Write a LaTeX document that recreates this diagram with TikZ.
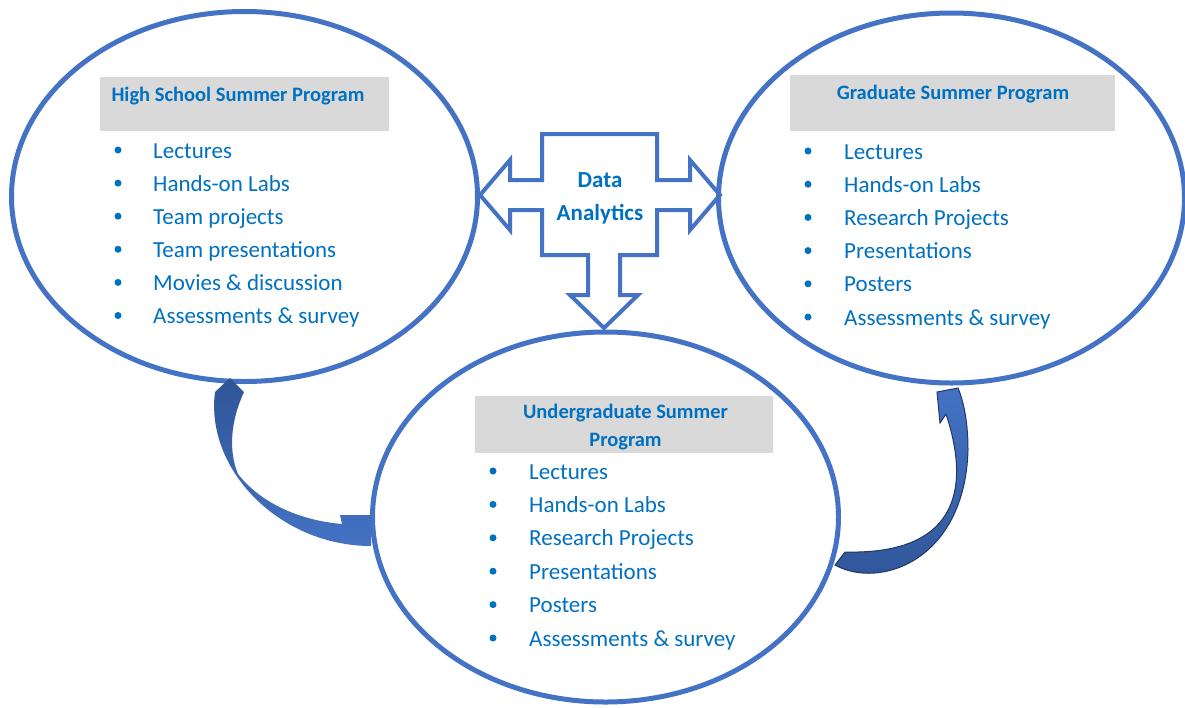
\documentclass[tikz,border=0pt]{standalone}
\usepackage{fontspec}
\setmainfont{Carlito}
\usetikzlibrary{shapes.geometric}
\definecolor{ringblue}{RGB}{68,114,196}
\definecolor{txtblue}{RGB}{0,112,192}
\definecolor{hdrgray}{RGB}{217,217,217}
\definecolor{darkblue}{RGB}{47,85,151}
\definecolor{navy}{RGB}{31,56,100}

\begin{document}
\begin{tikzpicture}[x=1pt,y=1pt,yscale=-1,
	ring/.style={ellipse,draw=ringblue,line width=5pt,inner sep=0pt,minimum width=466pt,minimum height=370pt},
	hdr/.style={fill=hdrgray,inner sep=0pt},
	title/.style={anchor=base,inner sep=0pt,text=txtblue,font=\fontsize{20.5}{24}\selectfont\bfseries},
	hubtext/.style={anchor=base,inner sep=0pt,text=txtblue,font=\fontsize{23}{27}\selectfont\bfseries},
	item/.style={anchor=base west,inner sep=0pt,text=txtblue,font=\fontsize{23}{27}\selectfont},
	dot/.style={circle,fill=txtblue,inner sep=0pt,minimum size=7pt}]
	\useasboundingbox (0,0) rectangle (1185,707);

	% the three programs
	\node[ring] (hs) at (244.5,196.5) {};
	\node[ring] (grad) at (951.5,198) {};
	\node[ring] (ug) at (605.5,517) {};

	% grey title bars
	\node[hdr,minimum width=289pt,minimum height=54pt] (hsbox) at (244.5,104) {};
	\node[hdr,minimum width=325pt,minimum height=56pt] (gradbox) at (952.5,103) {};
	\node[hdr,minimum width=298pt,minimum height=57pt] (ugbox) at (624,424.5) {};
	\node[title] (hstitle) at (238,101) {High School Summer Program};
	\node[title] (gradtitle) at (953,99) {Graduate Summer Program};
	\node[title] (ugtitle1) at (625.5,418) {Undergraduate Summer};
	\node[title] (ugtitle2) at (625.5,446) {Program};

	% bullet lists
	\foreach \t [count=\i from 0] in {Lectures,Hands-on Labs,Team projects,Team presentations,Movies \& discussion,Assessments \& survey} {
		\node[dot] (hsdot\i) at (118,150+33.1*\i) {};
		\node[item] (hs\i) at (153,158+33.1*\i) {\t};
	}
	\foreach \t [count=\i from 0] in {Lectures,Hands-on Labs,Research Projects,Presentations,Posters,Assessments \& survey} {
		\node[dot] (graddot\i) at (808,151+33.2*\i) {};
		\node[item] (grad\i) at (844,159+33.2*\i) {\t};
		\node[dot] (ugdot\i) at (493,471+33.4*\i) {};
		\node[item] (ug\i) at (529,479+33.4*\i) {\t};
	}

	% data analytics hub with its three arrows
	\draw[ringblue,line width=4pt,miter limit=20] (542,134) -- (657,134) -- (657,180) -- (690,180) -- (690,160) -- (720,195)
		-- (690,230) -- (690,210) -- (657,210) -- (657,255) -- (620,255) -- (620,295) -- (638,295) -- (604,328)
		-- (570,295) -- (588,295) -- (588,255) -- (542,255) -- (542,210) -- (510,210) -- (510,230) -- (480,195)
		-- (510,160) -- (510,180) -- (542,180) -- cycle;
	\node[hubtext] (hubdata) at (600,187) {Data};
	\node[hubtext] (hubanalytics) at (600,220) {Analytics};

	% curved arrows: high school -> undergraduate -> graduate
	\shade[top color=darkblue,bottom color=ringblue] (215,392) -- (230,378) -- (244,392)
		.. controls (231,420) and (228,450) .. (238,474)
		.. controls (258,500) and (295,520) .. (342,524) -- (340,515) -- (371,515) -- (371,546)
		.. controls (280,546) and (205,470) .. (215,392) -- cycle;
	\shade[draw=navy,line width=1pt,top color=ringblue,bottom color=darkblue] (845,552) -- (835,565)
		.. controls (880,590) and (965,560) .. (968,450)
		.. controls (968,420) and (963,400) .. (958,388) -- (937,392) -- (940,423) -- (946,414)
		.. controls (968,480) and (965,555) .. (845,552) -- cycle;
\end{tikzpicture}
\end{document}
